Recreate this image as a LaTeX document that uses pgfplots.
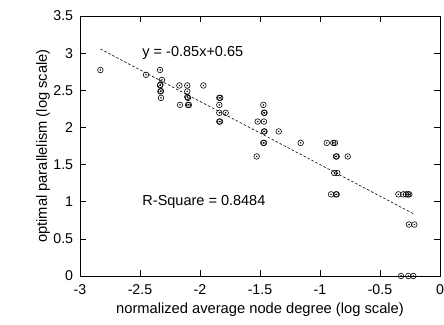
\documentclass[border=0pt]{standalone}
\usepackage{fontspec}
\setmainfont{Liberation Sans}
\usepackage{pgfplots}
\pgfplotsset{compat=1.18}
\begin{document}
\fontsize{14pt}{16pt}\selectfont
\begin{tikzpicture}
\pgfplotstableread{
x y
-2.83 2.773
-2.45 2.708
-2.333 2.773
-2.317 2.639
-2.333 2.565
-2.330 2.575
-2.330 2.485
-2.325 2.490
-2.325 2.398
-2.172 2.565
-2.167 2.303
-2.106 2.565
-2.106 2.485
-2.106 2.410
-2.100 2.398
-2.100 2.303
-2.092 2.303
-1.972 2.565
-1.839 2.398
-1.832 2.398
-1.839 2.303
-1.839 2.197
-1.839 2.079
-1.833 2.079
-1.786 2.197
-1.519 2.079
-1.472 2.303
-1.467 2.197
-1.462 2.197
-1.467 2.079
-1.467 1.946
-1.462 1.946
-1.472 1.792
-1.467 1.792
-1.528 1.609
-1.344 1.946
-1.161 1.792
-0.944 1.792
-0.889 1.792
-0.875 1.792
-0.867 1.609
-0.861 1.609
-0.881 1.386
-0.856 1.386
-0.769 1.609
-0.908 1.099
-0.867 1.099
-0.861 1.099
-0.347 1.099
-0.306 1.099
-0.283 1.099
-0.267 1.099
-0.256 1.099
-0.258 0.693
-0.214 0.693
-0.325 0
-0.264 0
-0.222 0
}\pts
\begin{axis}[
  name=ax,
  scale only axis,
  width=360pt, height=260pt,
  xmin=-3, xmax=0, ymin=0, ymax=3.5,
  xtick={-3,-2.5,...,0}, ytick={0,0.5,...,3.5},
  xticklabels={-3,-2.5,-2,-1.5,-1,-0.5,0},
  yticklabels={0,0.5,1,1.5,2,2.5,3,3.5},
  tick align=inside,
  major tick length=6pt,
  tick style={black, line width=0.6pt},
  axis line style={line width=0.8pt},
  /pgf/number format/assume math mode=true,
  ticklabel style={font=\fontsize{14.2pt}{16pt}\selectfont},
  xticklabel style={yshift=-4pt},
  yticklabel style={xshift=-2pt},
  label style={font=\fontsize{14.7pt}{16pt}\selectfont},
  xlabel={normalized average node degree (log scale)},
  ylabel={optimal parallelism (log scale)},
  xlabel style={yshift=2pt},
  ylabel style={yshift=-6pt},
  clip=false,
]
\addplot[only marks, mark=o, mark size=2.8pt, mark options={line width=0.6pt}] table[x=x,y=y] {\pts};
\addplot[only marks, mark=*, mark size=0.5pt] table[x=x,y=y] {\pts};
\addplot[black, dash pattern=on 2.5pt off 2pt, line width=0.6pt] coordinates {(-2.83,3.0555) (-0.21,0.8285)};
\node[anchor=west, font=\fontsize{14.5pt}{16pt}\selectfont] at (axis cs:-2.52,3.0) {y = -0.85x+0.65};
\node[anchor=west, font=\fontsize{14.5pt}{16pt}\selectfont] at (axis cs:-2.52,1.0) {R-Square = 0.8484};
\end{axis}
\pgfresetboundingbox
\path[use as bounding box] ([shift={(-80pt,-49pt)}]ax.south west) rectangle ([shift={(4pt,16pt)}]ax.north east);
\end{tikzpicture}
\end{document}
